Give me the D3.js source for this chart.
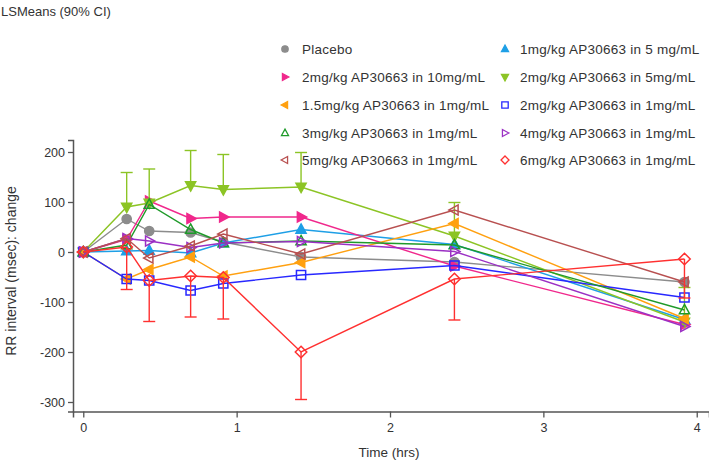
<!DOCTYPE html>
<html><head><meta charset="utf-8">
<script src="https://cdn.jsdelivr.net/npm/d3@7"></script>
<style>body{margin:0;background:#fff}svg{display:block}text{font-family:"Liberation Sans",Arial,sans-serif;fill:#333}</style>
</head><body><svg id="c" width="709" height="468"></svg>
<script>
const times = [0, 0.283, 0.43, 0.70, 0.913, 1.42, 2.42, 3.92];
const seriesNames = [
  "Placebo",
  "1mg/kg AP30663 in 5 mg/mL",
  "2mg/kg AP30663 in 10mg/mL",
  "2mg/kg AP30663 in 5mg/mL",
  "1.5mg/kg AP30663 in 1mg/mL",
  "2mg/kg AP30663 in 1mg/mL",
  "3mg/kg AP30663 in 1mg/mL",
  "4mg/kg AP30663 in 1mg/mL",
  "5mg/kg AP30663 in 1mg/mL",
  "6mg/kg AP30663 in 1mg/mL"
];
const placebo   = [0, 66, 42, 39, 20, -10, -20, -60];
const d1in5     = [0, 2, 3, -2, 18, 45, 15, -135];
const d2in10    = [0, 25, 102, 67, 70, 70, -28, -145];
const d2in5     = [0, 90, 98, 133, 125, 130, 32, -140];
const d2in5Up   = [null, 159, 166, 203, 195, 199, 99, -71];
const d15in1    = [0, -54, -35, -10, -48, -21, 57, -133];
const d2in1     = [0, -54, -57, -77, -63, -46, -27, -91];
const d3in1     = [0, 14, 95, 45, 18, 22, 14, -116];
const d4in1     = [0, 27, 22, 9, 18, 21, 1, -149];
const d5in1     = [0, 27, -12, 12, 36, -4, 84, -60];
const d6in1     = [0, 10, -57, -48, -51, -200, -54, -14];
const d6in1Low  = [null, -75, -139, -130, -134, -295, -136, -92];
const yTicks = [-300, -200, -100, 0, 100, 200];
const xTicks = [0, 1, 2, 3, 4];

const colors = ["#8c8c8c", "#1e9fe6", "#f0288c", "#8cc425", "#ffa010", "#2828ff", "#1f9a2a", "#9b30c4", "#b85050", "#ff3030"];
const shapes = ["circle", "up", "right", "down", "left", "square", "up", "right", "left", "diamond"];
const filled = [true, true, true, true, true, false, false, false, false, false];
const values = [placebo, d1in5, d2in10, d2in5, d15in1, d2in1, d3in1, d4in1, d5in1, d6in1];

const svg = d3.select("#c");
const x = d3.scaleLinear().domain([-0.067, 4.08]).range([73, 709]);
const y = d3.scaleLinear().domain([-319, 224]).range([411.5, 140]);

function markerPath(shape, r) {
  switch (shape) {
    case "circle": return d3.symbol(d3.symbolCircle, Math.PI * r * r)();
    case "square": return `M${-r},${-r}H${r}V${r}H${-r}Z`;
    case "diamond": return `M0,${-r * 1.25}L${r * 1.25},0L0,${r * 1.25}L${-r * 1.25},0Z`;
    case "up": return `M0,${-r * 1.2}L${r * 1.1},${r * 0.8}L${-r * 1.1},${r * 0.8}Z`;
    case "down": return `M0,${r * 1.2}L${r * 1.1},${-r * 0.8}L${-r * 1.1},${-r * 0.8}Z`;
    case "right": return `M${r * 1.2},0L${-r * 0.8},${r * 1.1}L${-r * 0.8},${-r * 1.1}Z`;
    case "left": return `M${-r * 1.2},0L${r * 0.8},${r * 1.1}L${r * 0.8},${-r * 1.1}Z`;
  }
}

// axes
const yAxis = d3.axisLeft(y).tickValues(yTicks).tickSize(5).tickPadding(3);
const gy = svg.append("g").attr("transform", "translate(73,0)").call(yAxis);
const xAxis = d3.axisBottom(x).tickValues(xTicks).tickSize(6).tickPadding(6).tickFormat(d3.format("d"));
const gx = svg.append("g").attr("transform", "translate(0,411.5)").call(xAxis);
[gx, gy].forEach(g => {
  g.select(".domain").attr("stroke", "#555").attr("stroke-width", 1.5);
  g.selectAll(".tick line").attr("stroke", "#555").attr("stroke-width", 1.3);
  g.selectAll(".tick text").style("font-size", "12.5px").attr("fill", "#333");
});
gy.selectAll(".tick text").text(d => d < 0 ? "-" + Math.abs(d) : d);

// error bars
const cap = 6;
function errBars(vals, bound, color) {
  const g = svg.append("g").attr("stroke", color).attr("stroke-width", 1.4);
  times.forEach((t, i) => {
    if (bound[i] == null) return;
    g.append("line").attr("x1", x(t)).attr("x2", x(t)).attr("y1", y(vals[i])).attr("y2", y(bound[i]));
    g.append("line").attr("x1", x(t) - cap).attr("x2", x(t) + cap).attr("y1", y(bound[i])).attr("y2", y(bound[i]));
  });
}

const line = d3.line().x((d, i) => x(times[i])).y(d => y(d));
values.forEach((vals, s) => {
  if (s === 3) errBars(vals, d2in5Up, colors[s]);
  if (s === 9) errBars(vals, d6in1Low, colors[s]);
  svg.append("path").datum(vals).attr("d", line).attr("fill", "none")
    .attr("stroke", colors[s]).attr("stroke-width", 1.4);
  svg.append("g").selectAll("path").data(vals).join("path")
    .attr("transform", (d, i) => `translate(${x(times[i])},${y(d)})`)
    .attr("d", markerPath(shapes[s], 4.6))
    .attr("fill", filled[s] ? colors[s] : "none")
    .attr("stroke", colors[s]).attr("stroke-width", 1.5);
});

// legend
const legOrder = [0, 2, 4, 6, 8, 1, 3, 5, 7, 9];
const rowsY = [49, 77, 105, 133, 160];
legOrder.forEach((s, k) => {
  const col = Math.floor(k / 5), row = k % 5;
  const mx = col === 0 ? 285 : 505, tx = col === 0 ? 302 : 520;
  const yy = rowsY[row];
  svg.append("path").attr("transform", `translate(${mx},${yy})`)
    .attr("d", markerPath(shapes[s], 3.2))
    .attr("fill", filled[s] ? colors[s] : "none")
    .attr("stroke", colors[s]).attr("stroke-width", 1.3);
  svg.append("text").attr("x", tx).attr("y", yy).attr("dy", "0.35em")
    .style("font-size", "13.5px").style("letter-spacing", "0.25px").text(seriesNames[s]);
});

// titles
svg.append("text").attr("x", 1).attr("y", 11).attr("dy", "0.35em").style("font-size", "13px").text("LSMeans (90% CI)");
svg.append("text").attr("transform", "translate(11,271) rotate(-90)").attr("text-anchor", "middle").attr("dy", "0.35em")
  .style("font-size", "14px").text("RR interval (msec): change");
svg.append("text").attr("x", 389).attr("y", 452).attr("text-anchor", "middle").attr("dy", "0.35em")
  .style("font-size", "13.5px").text("Time (hrs)");
</script></body></html>
